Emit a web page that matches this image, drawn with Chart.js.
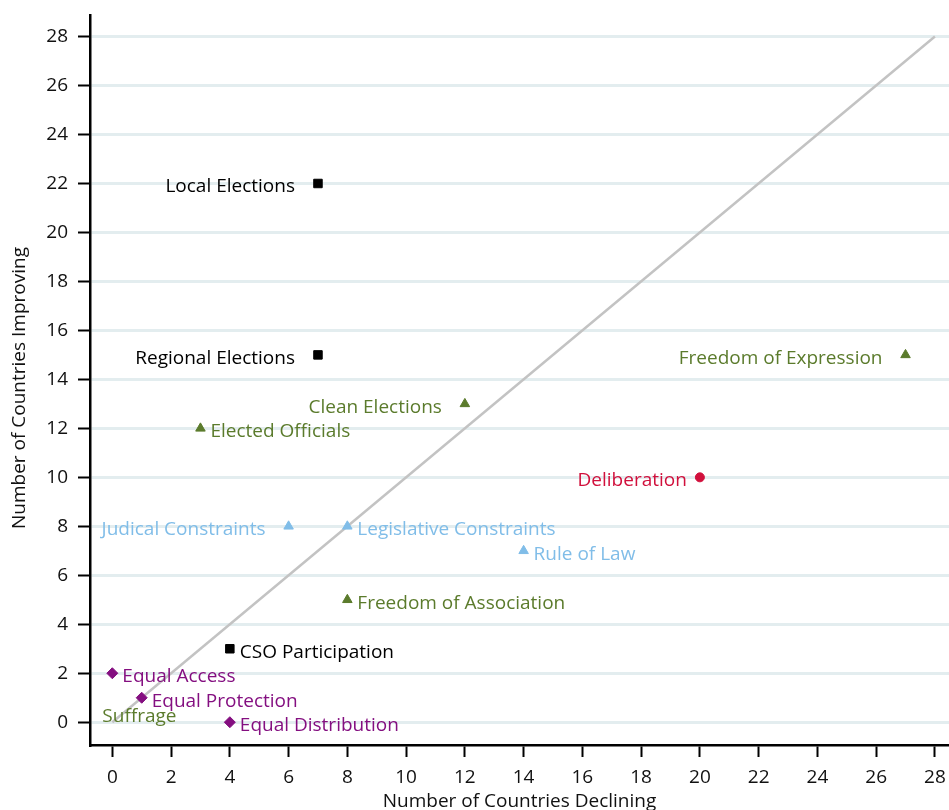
<!DOCTYPE html>
<html>
<head>
<meta charset="utf-8">
<script src="https://cdn.jsdelivr.net/npm/chart.js@4/dist/chart.umd.min.js"></script>
<style>
html,body{margin:0;padding:0;background:#fff;}
#wrap{width:949px;height:810px;position:relative;}
canvas{display:block;}
</style>
</head>
<body>
<div id="wrap"><canvas id="c" width="949" height="810"></canvas></div>
<script>
// ---- data ----
const indicators = ['Local Elections','Regional Elections','CSO Participation','Freedom of Expression','Clean Elections','Elected Officials','Freedom of Association','Suffrage','Judical Constraints','Legislative Constraints','Rule of Law','Deliberation','Equal Access','Equal Protection','Equal Distribution'];
const declining = [7, 7, 4, 27, 12, 3, 8, 0, 6, 8, 14, 20, 0, 1, 4];
const improving = [22, 15, 3, 15, 13, 12, 5, 0, 8, 8, 7, 10, 2, 1, 0];
const groups = ['elect','elect','elect','expr','expr','expr','expr','suffrage','constr','constr','constr','delib','equal','equal','equal'];
const labelSide = ['left','left','right','left','left','right','right','below','left','right','right','leftNear','right','right','right'];
const xTicks = [0,2,4,6,8,10,12,14,16,18,20,22,24,26,28];
const yTicks = [0,2,4,6,8,10,12,14,16,18,20,22,24,26,28];
const parityX = [0, 28];
const parityY = [0, 28];
const xTitle = 'Number of Countries Declining';
const yTitle = 'Number of Countries Improving';

// ---- styles ----
const FONT = '"Open Sans", "Noto Sans", sans-serif';
const FS = 19;
const groupStyle = {
  elect:   {color:'#000000', shape:'rect',     r:6},
  expr:    {color:'#5b7b2c', shape:'triangle', r:5.5},
  suffrage:{color:'#5b7b2c', shape:'circle',   r:0},
  constr:  {color:'#80bde8', shape:'triangle', r:5.5},
  delib:   {color:'#d1103c', shape:'circle',   r:4.5},
  equal:   {color:'#840f80', shape:'rectRot',  r:5.5}
};

const groupOrder = ['elect','expr','suffrage','constr','delib','equal'];
const datasets = groupOrder.map(g => {
  const idx = groups.map((v,i)=>v===g?i:-1).filter(i=>i>=0);
  const st = groupStyle[g];
  return {
    type:'scatter',
    label:g,
    data: idx.map(i => ({x: declining[i], y: improving[i]})),
    pointLabels: idx.map(i => indicators[i]),
    labelSides: idx.map(i => labelSide[i]),
    labelColor: st.color,
    pointStyle: st.shape,
    pointRadius: st.r,
    pointHoverRadius: st.r,
    backgroundColor: st.color,
    borderColor: st.color,
    pointBorderWidth: st.r ? 1 : 0
  };
});
datasets.push({
  type:'line',
  label:'parity',
  data: parityX.map((v,i)=>({x:v, y:parityY[i]})),
  borderColor:'#c3c3c3',
  borderWidth:2.5,
  pointRadius:0,
  fill:false
});

const labelPlugin = {
  id:'pointLabels',
  afterDatasetsDraw(chart){
    const ctx = chart.ctx;
    ctx.save();
    ctx.font = FS + 'px ' + FONT;
    ctx.textBaseline = 'alphabetic';
    chart.data.datasets.forEach((ds, di) => {
      if (!ds.pointLabels) return;
      const meta = chart.getDatasetMeta(di);
      meta.data.forEach((el, i) => {
        const side = ds.labelSides[i];
        let x = el.x, y = el.y + 9;
        if (side === 'right') { ctx.textAlign = 'left'; x += 10; }
        else if (side === 'left') { ctx.textAlign = 'right'; x -= 23; }
        else if (side === 'leftNear') { ctx.textAlign = 'right'; x -= 13; }
        else { ctx.textAlign = 'left'; x -= 10; y = el.y; }
        ctx.fillStyle = ds.labelColor;
        ctx.fillText(ds.pointLabels[i], x, y);
      });
    });
    ctx.restore();
  }
};

const yTitlePlugin = {
  id:'yTitle',
  afterDraw(chart){
    const ctx = chart.ctx;
    const a = chart.chartArea;
    ctx.save();
    ctx.font = FS + 'px ' + FONT;
    ctx.fillStyle = '#111';
    ctx.textAlign = 'center';
    ctx.textBaseline = 'middle';
    ctx.translate(20, (a.top + a.bottom)/2 + 8);
    ctx.rotate(-Math.PI/2);
    ctx.fillText(yTitle, 0, 0);
    ctx.restore();
  }
};

new Chart(document.getElementById('c'), {
  type:'scatter',
  data:{datasets},
  plugins:[labelPlugin, yTitlePlugin],
  options:{
    responsive:false,
    animation:false,
    events:[],
    layout:{autoPadding:false, padding:{top:15, right:0, left:0, bottom:0}},
    plugins:{legend:{display:false}, tooltip:{enabled:false}},
    scales:{
      x:{
        type:'linear',
        min:-0.76, max:28.48,
        afterBuildTicks: s => { s.ticks = xTicks.map(v=>({value:v})); },
        afterFit: s => { s.height = 65; s.paddingLeft = 0; s.paddingRight = 0; },
        ticks:{color:'#111', font:{family:FONT, size:FS}, padding:9, maxRotation:0, autoSkip:false},
        grid:{display:true, drawOnChartArea:false, drawTicks:true, tickLength:12, tickColor:'#000', tickWidth:2},
        border:{display:true, color:'#000', width:2.5},
        title:{display:true, text:xTitle, color:'#111', font:{family:FONT, size:FS, lineHeight:1}, padding:{top:0, bottom:-1}}
      },
      y:{
        type:'linear',
        min:-0.93, max:28.88,
        afterBuildTicks: s => { s.ticks = yTicks.map(v=>({value:v})); },
        afterFit: s => { s.width = 90; s.paddingTop = 0; s.paddingBottom = 0; },
        ticks:{color:'#111', font:{family:FONT, size:FS}, padding:10, autoSkip:false},
        grid:{display:true, drawOnChartArea:true, color:'#e3edef', lineWidth:3, drawTicks:true, tickLength:12, tickColor:'#000', tickWidth:2},
        border:{display:true, color:'#000', width:2.5}
      }
    }
  }
});
</script>
</body>
</html>
